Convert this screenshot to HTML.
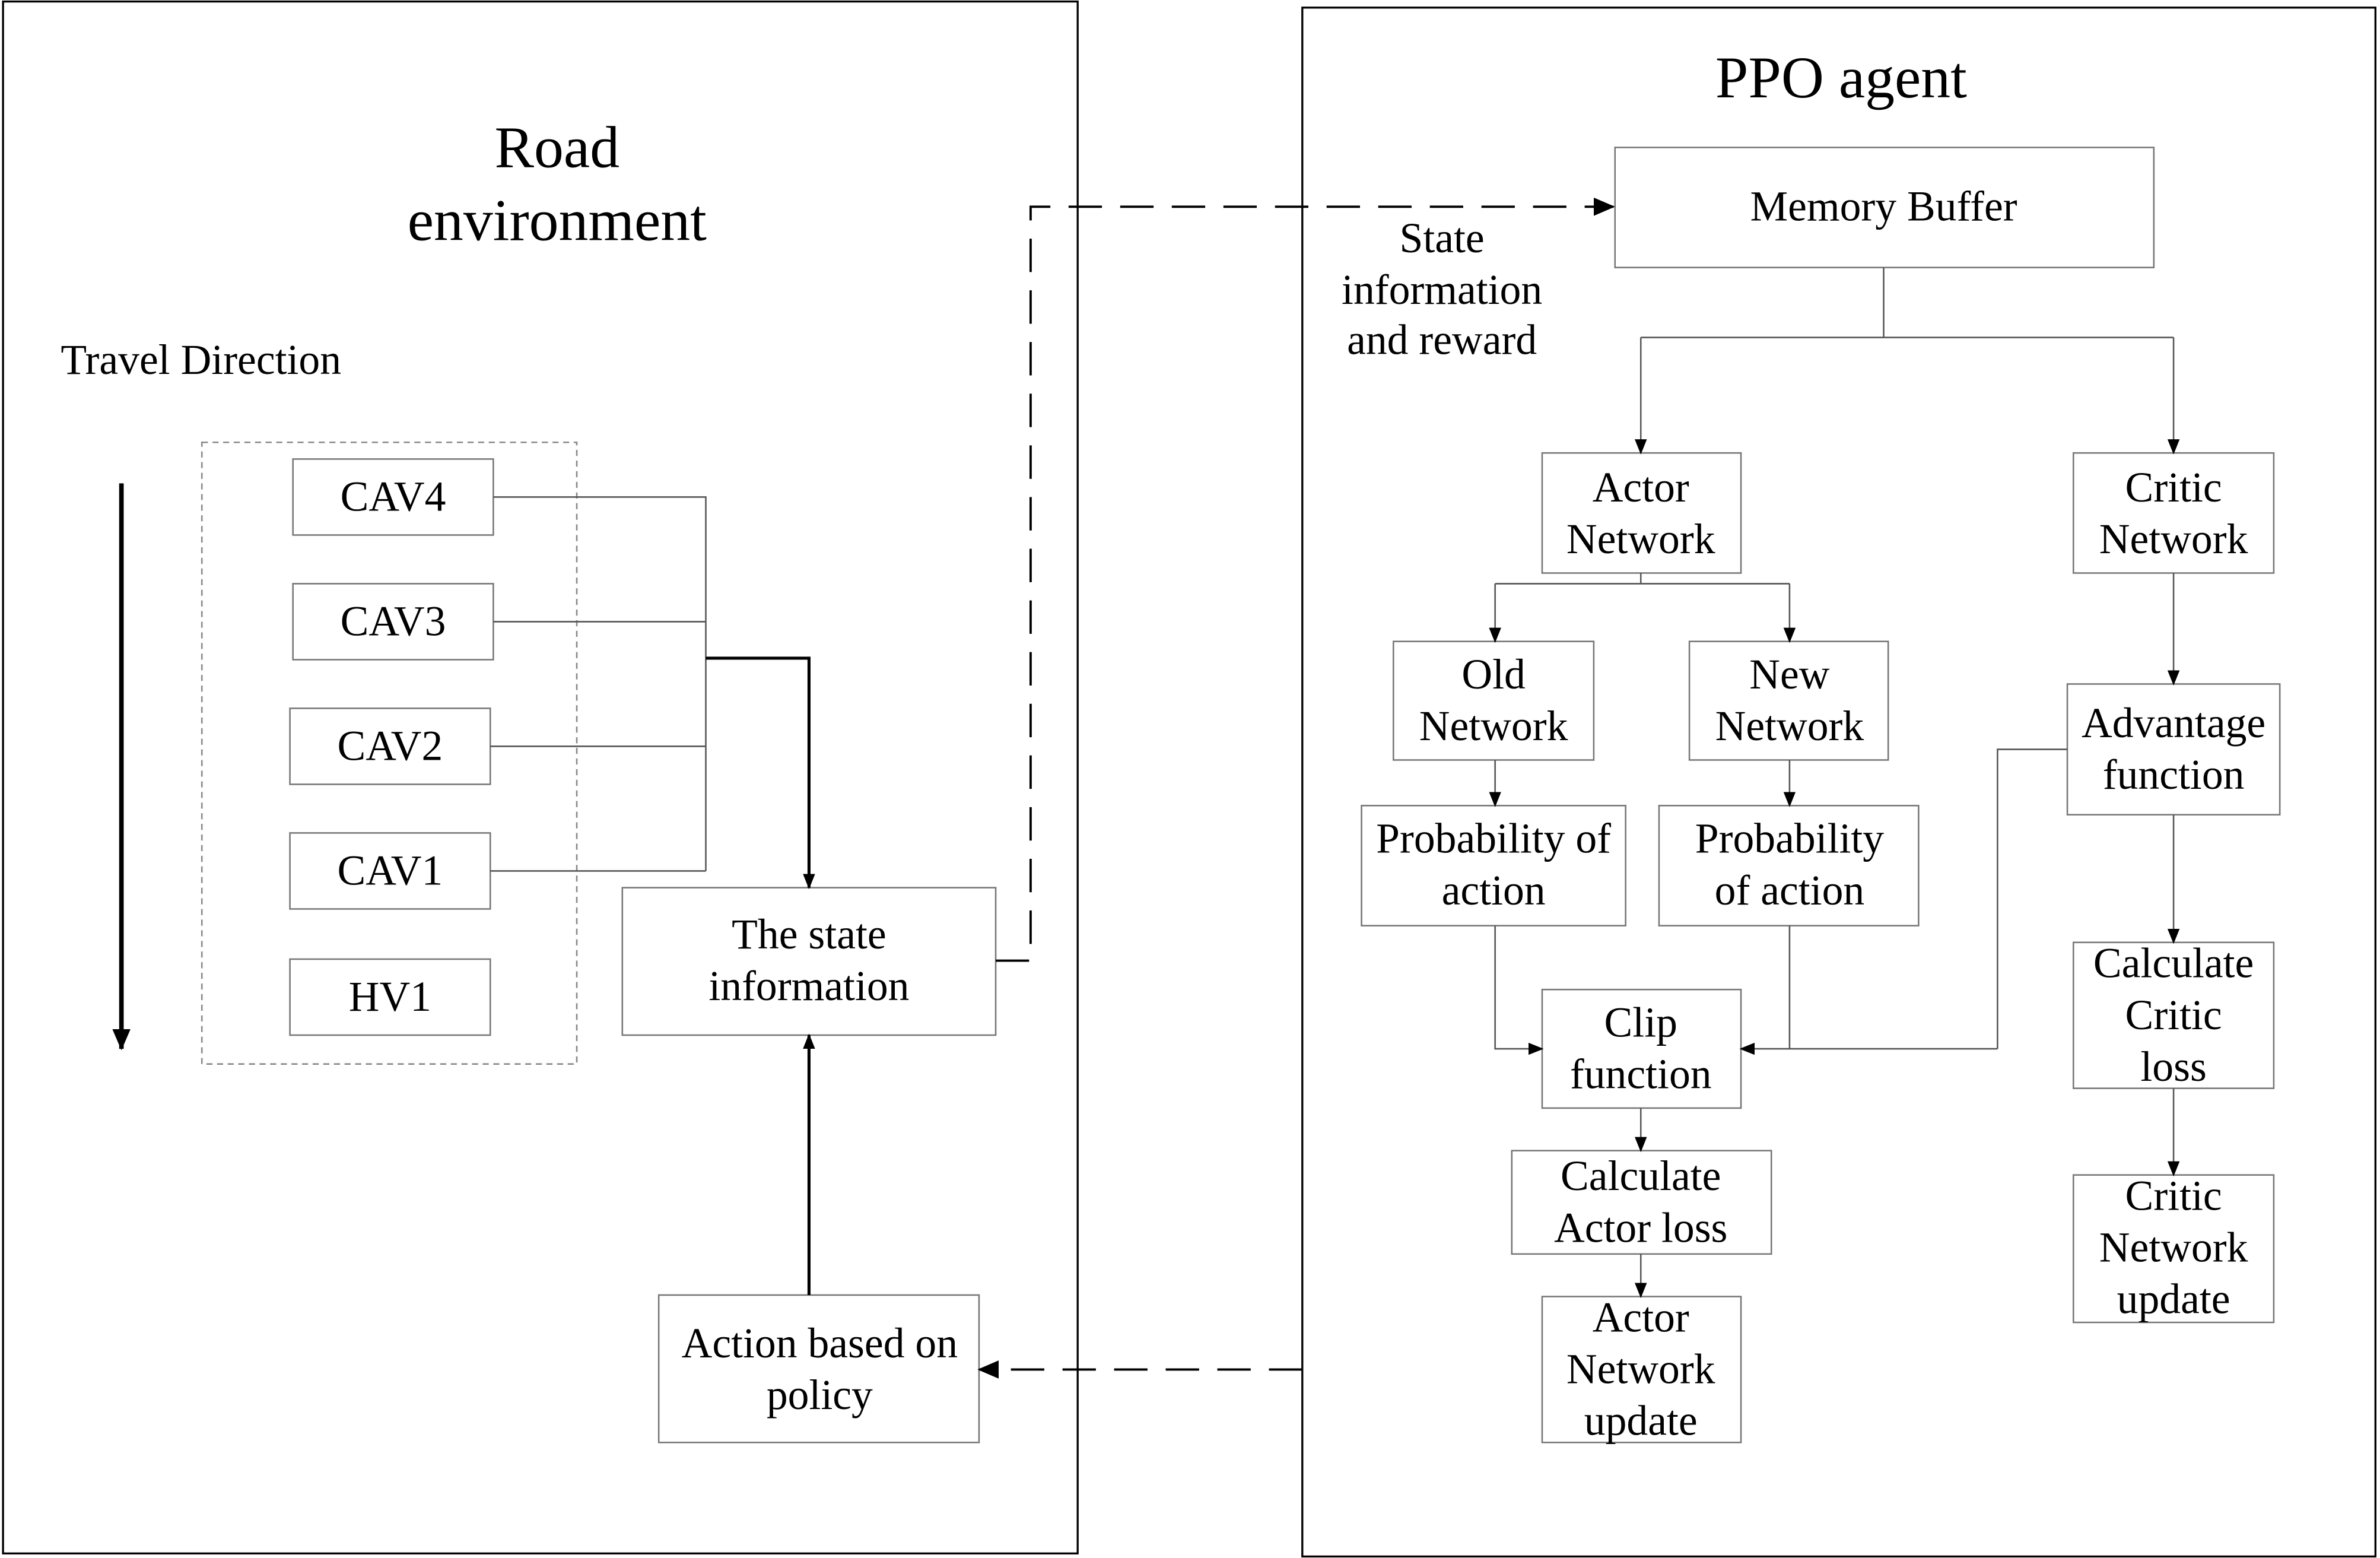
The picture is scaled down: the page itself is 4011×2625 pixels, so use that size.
<!DOCTYPE html>
<html><head><meta charset="utf-8"><style>
html,body{margin:0;padding:0;background:#fff;}
svg{display:block;}
text{font-family:"Liberation Serif",serif;fill:#000;}
</style></head><body>
<svg width="4011" height="2625" viewBox="0 0 1568 1025" preserveAspectRatio="none" xmlns="http://www.w3.org/2000/svg">
<defs>
<marker id="ah" markerWidth="10" markerHeight="8" refX="9" refY="4" orient="auto" markerUnits="userSpaceOnUse">
<path d="M0,0 L10,4 L0,8 Z" fill="#000"/></marker>
<marker id="ahb" markerWidth="14" markerHeight="12" refX="13" refY="6" orient="auto" markerUnits="userSpaceOnUse">
<path d="M0,0 L14,6 L0,12 Z" fill="#000"/></marker>
</defs>
<rect width="1568" height="1025" fill="#fff"/>
<g fill="none" stroke="#000" stroke-width="1.3">
<rect x="2" y="1" width="708" height="1021"/>
<rect x="858" y="5" width="707" height="1019"/>
</g>
<g font-size="39" text-anchor="middle">
<text x="367" y="110">Road</text>
<text x="367" y="158">environment</text>
<text x="1213" y="64">PPO agent</text>
</g>
<text x="40" y="246" font-size="28">Travel Direction</text>
<line x1="80" y1="318" x2="80" y2="690" stroke="#000" stroke-width="3" marker-end="url(#ahb)"/>
<rect x="133" y="291" width="247" height="409" fill="none" stroke="#888" stroke-width="1" stroke-dasharray="4,3"/>
<g fill="#fff" stroke="#777" stroke-width="1">
<rect x="193" y="302" width="132" height="50"/>
<rect x="193" y="384" width="132" height="50"/>
<rect x="191" y="466" width="132" height="50"/>
<rect x="191" y="548" width="132" height="50"/>
<rect x="191" y="631" width="132" height="50"/>
<rect x="410" y="584" width="246" height="97"/>
<rect x="434" y="852" width="211" height="97"/>
<rect x="1064" y="97" width="355" height="79"/>
<rect x="1016" y="298" width="131" height="79"/>
<rect x="1366" y="298" width="132" height="79"/>
<rect x="918" y="422" width="132" height="78"/>
<rect x="1113" y="422" width="131" height="78"/>
<rect x="897" y="530" width="174" height="79"/>
<rect x="1093" y="530" width="171" height="79"/>
<rect x="1016" y="651" width="131" height="78"/>
<rect x="996" y="757" width="171" height="68"/>
<rect x="1016" y="853" width="131" height="96"/>
<rect x="1362" y="450" width="140" height="86"/>
<rect x="1366" y="620" width="132" height="96"/>
<rect x="1366" y="773" width="132" height="97"/>
</g>
<g font-size="28" text-anchor="middle">
<text x="259" y="336">CAV4</text>
<text x="259" y="418">CAV3</text>
<text x="257" y="500">CAV2</text>
<text x="257" y="582">CAV1</text>
<text x="257" y="665">HV1</text>
<text x="533" y="624">The state</text>
<text x="533" y="658">information</text>
<text x="540" y="893">Action based on</text>
<text x="540" y="927">policy</text>
<text x="1241" y="145">Memory Buffer</text>
<text x="950" y="166">State</text>
<text x="950" y="200">information</text>
<text x="950" y="233">and reward</text>
<text x="1081" y="330">Actor</text>
<text x="1081" y="364">Network</text>
<text x="1432" y="330">Critic</text>
<text x="1432" y="364">Network</text>
<text x="984" y="453">Old</text>
<text x="984" y="487">Network</text>
<text x="1179" y="453">New</text>
<text x="1179" y="487">Network</text>
<text x="984" y="561">Probability of</text>
<text x="984" y="595">action</text>
<text x="1179" y="561">Probability</text>
<text x="1179" y="595">of action</text>
<text x="1081" y="682">Clip</text>
<text x="1081" y="716">function</text>
<text x="1081" y="783">Calculate</text>
<text x="1081" y="817">Actor loss</text>
<text x="1081" y="876">Actor</text>
<text x="1081" y="910">Network</text>
<text x="1081" y="944">update</text>
<text x="1432" y="485">Advantage</text>
<text x="1432" y="519">function</text>
<text x="1432" y="643">Calculate</text>
<text x="1432" y="677">Critic</text>
<text x="1432" y="711">loss</text>
<text x="1432" y="796">Critic</text>
<text x="1432" y="830">Network</text>
<text x="1432" y="864">update</text>
</g>
<g fill="none" stroke="#555" stroke-width="1">
<polyline points="325,327 465,327 465,573"/>
<line x1="325" y1="409" x2="465" y2="409"/>
<line x1="323" y1="491" x2="465" y2="491"/>
<line x1="323" y1="573" x2="465" y2="573"/>
<polyline points="1241,176 1241,222"/>
<line x1="1081" y1="222" x2="1432" y2="222"/>
<line x1="985" y1="384" x2="1179" y2="384"/>
<line x1="1081" y1="377" x2="1081" y2="384"/>
<polyline points="1179,609 1179,690"/>
<polyline points="1362,493 1316,493 1316,690"/>
</g>
<g fill="none" stroke="#555" stroke-width="1" marker-end="url(#ah)">
<line x1="1081" y1="222" x2="1081" y2="298"/>
<line x1="1432" y1="222" x2="1432" y2="298"/>
<line x1="985" y1="384" x2="985" y2="422"/>
<line x1="1179" y1="384" x2="1179" y2="422"/>
<line x1="985" y1="500" x2="985" y2="530"/>
<line x1="1179" y1="500" x2="1179" y2="530"/>
<polyline points="985,609 985,690 1016,690"/>
<polyline points="1316,690 1147,690"/>
<line x1="1081" y1="729" x2="1081" y2="757"/>
<line x1="1081" y1="825" x2="1081" y2="853"/>
<line x1="1432" y1="377" x2="1432" y2="450"/>
<line x1="1432" y1="536" x2="1432" y2="620"/>
<line x1="1432" y1="716" x2="1432" y2="773"/>
</g>
<polyline points="465,433 533,433 533,584" fill="none" stroke="#000" stroke-width="2" marker-end="url(#ah)"/>
<line x1="533" y1="852" x2="533" y2="681" stroke="#000" stroke-width="2" marker-end="url(#ah)"/>
<polyline points="656,632 679,632 679,136 1063,136" fill="none" stroke="#000" stroke-width="1.5" stroke-dasharray="22,12" marker-end="url(#ahb)"/>
<line x1="858" y1="901" x2="645" y2="901" stroke="#000" stroke-width="1.5" stroke-dasharray="22,12" marker-end="url(#ahb)"/>
</svg>
</body></html>
